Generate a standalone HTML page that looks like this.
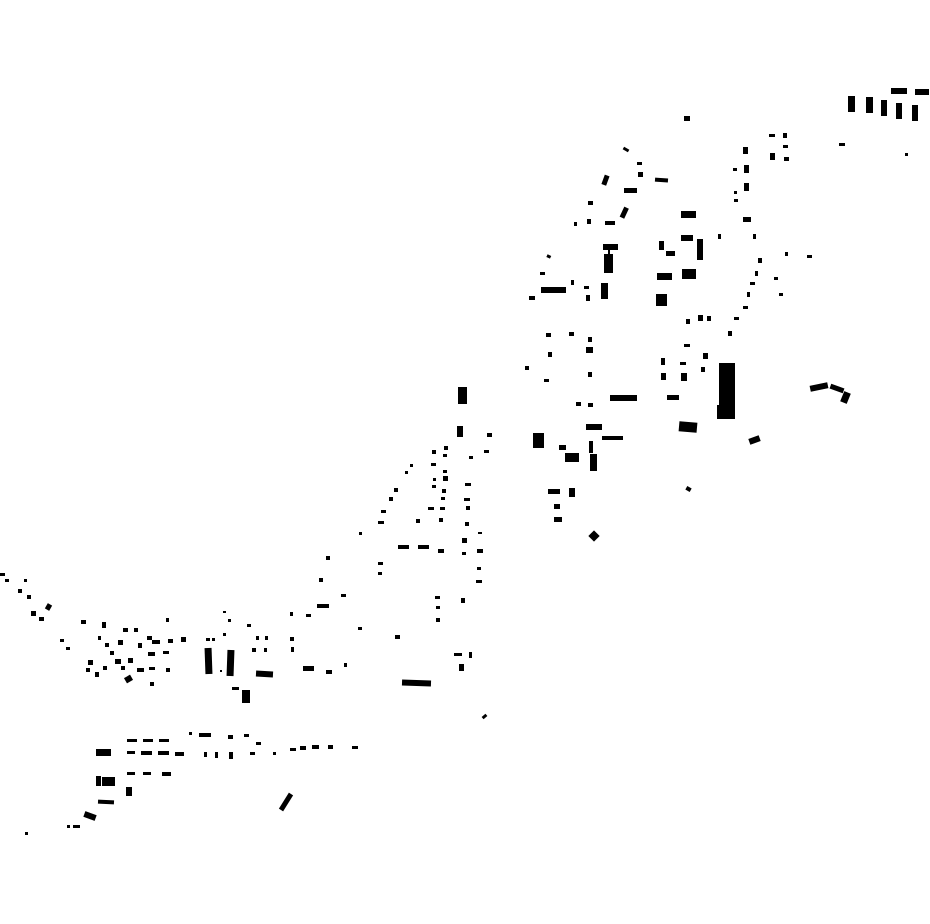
<!DOCTYPE html>
<html><head><meta charset="utf-8"><style>html,body{margin:0;padding:0;background:#fff}svg{display:block}</style></head>
<body>
<svg width="930" height="924" viewBox="0 0 930 924" xmlns="http://www.w3.org/2000/svg">
<g fill="#000">
<!-- top right -->
<rect x="891" y="88" width="16" height="6"/><rect x="915" y="89" width="14" height="6"/>
<rect x="848" y="96" width="7" height="16"/><rect x="866" y="97" width="7" height="16"/><rect x="881" y="100" width="6" height="16"/><rect x="896" y="103" width="6" height="16"/><rect x="912" y="105" width="6" height="16"/>
<rect x="684" y="116" width="6" height="5"/><rect x="839" y="143" width="6" height="3"/><rect x="905" y="153" width="3" height="3"/>
<rect x="769" y="134" width="6" height="3"/><rect x="783" y="133" width="4" height="5"/><rect x="783" y="145" width="5" height="3"/><rect x="770" y="153" width="5" height="7"/><rect x="784" y="157" width="5" height="4"/>
<rect x="743" y="147" width="5" height="7"/><rect x="733" y="168" width="4" height="3"/><rect x="744" y="165" width="5" height="8"/><rect x="744" y="183" width="5" height="8"/><rect x="734" y="191" width="3" height="3"/><rect x="734" y="199" width="4" height="3"/>
<rect x="623" y="148" width="6" height="3" transform="rotate(30 626 149.5)"/>
<rect x="637" y="162" width="5" height="3"/><rect x="638" y="172" width="5" height="5"/><rect x="655" y="178" width="13" height="4" transform="rotate(4 661 180)"/>
<rect x="603" y="175" width="5" height="10" transform="rotate(20 605 180)"/>
<rect x="624" y="188" width="13" height="5"/><rect x="588" y="201" width="5" height="4"/>
<rect x="622" y="207" width="5" height="11" transform="rotate(25 624 212)"/>
<rect x="574" y="222" width="3" height="4"/><rect x="587" y="219" width="4" height="5"/><rect x="605" y="221" width="10" height="4"/>
<rect x="681" y="211" width="15" height="7"/><rect x="743" y="217" width="8" height="5"/><rect x="718" y="234" width="3" height="5"/><rect x="753" y="234" width="3" height="5"/>
<rect x="681" y="235" width="12" height="6"/><rect x="697" y="239" width="6" height="21"/><rect x="659" y="241" width="5" height="9"/><rect x="666" y="251" width="9" height="5"/>
<rect x="603" y="244" width="15" height="6"/><rect x="608" y="250" width="2" height="4"/><rect x="604" y="254" width="9" height="19"/>
<rect x="547" y="255" width="4" height="3" transform="rotate(25 549 256)"/>
<rect x="540" y="272" width="5" height="3"/><rect x="571" y="280" width="3" height="5"/><rect x="541" y="287" width="25" height="6"/><rect x="584" y="286" width="5" height="3"/><rect x="586" y="295" width="4" height="6"/><rect x="601" y="283" width="7" height="16"/><rect x="529" y="296" width="6" height="4"/>
<rect x="657" y="273" width="15" height="7"/><rect x="682" y="269" width="14" height="10"/><rect x="656" y="294" width="11" height="12"/>
<rect x="758" y="258" width="4" height="5"/><rect x="755" y="271" width="3" height="5"/><rect x="750" y="282" width="5" height="3"/><rect x="747" y="292" width="3" height="5"/><rect x="743" y="306" width="5" height="3"/><rect x="734" y="317" width="5" height="3"/>
<rect x="785" y="252" width="3" height="4"/><rect x="807" y="255" width="5" height="3"/><rect x="774" y="277" width="4" height="3"/><rect x="779" y="293" width="4" height="3"/>
<rect x="686" y="319" width="4" height="5"/><rect x="698" y="315" width="5" height="6"/><rect x="707" y="316" width="4" height="5"/>
<!-- middle -->
<rect x="728" y="331" width="4" height="5"/><rect x="684" y="344" width="6" height="3"/><rect x="703" y="353" width="5" height="6"/><rect x="661" y="358" width="4" height="7"/><rect x="680" y="362" width="6" height="3"/><rect x="701" y="367" width="4" height="5"/><rect x="661" y="373" width="5" height="7"/><rect x="681" y="373" width="6" height="8"/>
<rect x="719" y="363" width="16" height="56"/><rect x="717" y="405" width="4" height="14"/>
<rect x="667" y="395" width="12" height="5"/><rect x="610" y="395" width="27" height="6"/>
<rect x="679" y="422" width="18" height="10" transform="rotate(5 688 427)"/>
<rect x="749" y="437" width="11" height="6" transform="rotate(-20 754.5 440)"/>
<rect x="810" y="384" width="18" height="6" transform="rotate(-12 819 387)"/>
<rect x="830" y="386" width="14" height="5" transform="rotate(20 837 388.5)"/>
<rect x="842" y="392" width="7" height="11" transform="rotate(22 845.5 397.5)"/>
<rect x="546" y="333" width="5" height="4"/><rect x="569" y="332" width="5" height="4"/><rect x="588" y="337" width="4" height="5"/><rect x="586" y="347" width="7" height="6"/><rect x="548" y="352" width="4" height="5"/><rect x="525" y="366" width="4" height="4"/><rect x="544" y="379" width="5" height="3"/><rect x="588" y="372" width="4" height="5"/>
<rect x="576" y="402" width="5" height="4"/><rect x="588" y="403" width="5" height="4"/>
<rect x="458" y="387" width="9" height="17"/><rect x="457" y="426" width="6" height="11"/>
<rect x="487" y="433" width="5" height="4"/><rect x="484" y="450" width="5" height="3"/><rect x="469" y="456" width="4" height="3"/>
<rect x="533" y="433" width="11" height="15"/><rect x="559" y="445" width="7" height="5"/><rect x="565" y="453" width="14" height="9"/>
<rect x="586" y="424" width="16" height="6"/><rect x="602" y="436" width="21" height="4"/><rect x="589" y="441" width="4" height="12"/><rect x="590" y="454" width="7" height="17"/>
<rect x="548" y="489" width="12" height="5"/><rect x="569" y="488" width="6" height="9"/><rect x="554" y="504" width="6" height="5"/><rect x="554" y="517" width="8" height="5"/>
<rect x="590" y="532" width="8" height="8" transform="rotate(45 594 536)"/>
<rect x="686" y="487" width="5" height="4" transform="rotate(30 688.5 489)"/>
<rect x="432" y="450" width="4" height="4"/><rect x="444" y="446" width="4" height="4"/><rect x="443" y="454" width="4" height="3"/><rect x="431" y="463" width="5" height="3"/><rect x="410" y="464" width="3" height="3"/><rect x="405" y="471" width="3" height="3"/><rect x="443" y="470" width="4" height="3"/><rect x="433" y="478" width="3" height="3"/><rect x="443" y="476" width="5" height="5"/><rect x="432" y="485" width="4" height="3"/><rect x="465" y="483" width="6" height="3"/><rect x="394" y="488" width="4" height="4"/><rect x="442" y="489" width="4" height="4"/><rect x="389" y="497" width="4" height="4"/><rect x="441" y="497" width="4" height="3"/><rect x="464" y="498" width="6" height="3"/><rect x="381" y="510" width="5" height="3"/><rect x="428" y="507" width="6" height="3"/><rect x="440" y="507" width="5" height="3"/><rect x="466" y="506" width="4" height="4"/><rect x="378" y="521" width="6" height="3"/><rect x="416" y="519" width="4" height="4"/><rect x="439" y="518" width="4" height="4"/><rect x="465" y="522" width="4" height="4"/><rect x="359" y="532" width="3" height="3"/><rect x="478" y="532" width="4" height="2"/>
<rect x="398" y="545" width="11" height="4"/><rect x="418" y="545" width="11" height="4"/><rect x="438" y="549" width="6" height="4"/><rect x="462" y="538" width="5" height="5"/><rect x="462" y="552" width="4" height="3"/><rect x="477" y="549" width="6" height="4"/>
<!-- lower -->
<rect x="326" y="556" width="4" height="4"/><rect x="378" y="562" width="5" height="3"/><rect x="378" y="572" width="4" height="3"/><rect x="477" y="567" width="4" height="3"/><rect x="476" y="580" width="6" height="3"/><rect x="319" y="578" width="4" height="4"/><rect x="341" y="594" width="5" height="3"/><rect x="317" y="604" width="12" height="4"/><rect x="435" y="596" width="5" height="3"/><rect x="461" y="598" width="4" height="5"/><rect x="436" y="606" width="4" height="3"/><rect x="436" y="618" width="4" height="4"/><rect x="290" y="612" width="3" height="4"/><rect x="306" y="614" width="5" height="3"/><rect x="358" y="627" width="4" height="3"/><rect x="395" y="635" width="5" height="4"/>
<rect x="454" y="653" width="8" height="3"/><rect x="469" y="652" width="3" height="6"/><rect x="459" y="664" width="5" height="7"/>
<rect x="402" y="680" width="29" height="6" transform="rotate(2 416.5 683)"/>
<rect x="482" y="715" width="5" height="3" transform="rotate(-40 484.5 716.5)"/>
<rect x="290" y="637" width="4" height="4"/><rect x="291" y="647" width="3" height="5"/><rect x="303" y="666" width="11" height="5"/><rect x="326" y="670" width="6" height="4"/><rect x="344" y="663" width="3" height="4"/>
<rect x="256" y="636" width="3" height="4"/><rect x="265" y="636" width="3" height="4"/><rect x="252" y="648" width="4" height="4"/><rect x="264" y="648" width="3" height="4"/><rect x="247" y="624" width="4" height="3"/><rect x="223" y="611" width="3" height="2"/><rect x="228" y="619" width="3" height="3"/><rect x="223" y="633" width="3" height="3"/><rect x="206" y="638" width="4" height="3"/><rect x="212" y="638" width="3" height="3"/><rect x="220" y="670" width="2" height="2"/>
<rect x="205" y="648" width="7" height="26" transform="rotate(-2 208.5 661)"/><rect x="227" y="650" width="7" height="26" transform="rotate(2 230.5 663)"/>
<rect x="256" y="671" width="17" height="6" transform="rotate(3 264.5 674)"/><rect x="232" y="687" width="7" height="3"/><rect x="242" y="690" width="8" height="13"/>
<rect x="0" y="573" width="5" height="3"/><rect x="5" y="579" width="4" height="3"/><rect x="24" y="579" width="3" height="3"/><rect x="18" y="589" width="4" height="4"/><rect x="27" y="595" width="4" height="4"/><rect x="31" y="611" width="5" height="5"/><rect x="39" y="617" width="5" height="4"/><rect x="46" y="604" width="5" height="6" transform="rotate(30 48.5 607)"/>
<rect x="81" y="620" width="5" height="4"/><rect x="102" y="622" width="4" height="6"/><rect x="60" y="639" width="4" height="3"/><rect x="66" y="647" width="4" height="3"/><rect x="98" y="636" width="3" height="4"/><rect x="105" y="643" width="4" height="4"/><rect x="110" y="651" width="4" height="4"/><rect x="115" y="659" width="6" height="5"/><rect x="123" y="628" width="5" height="4"/><rect x="118" y="640" width="5" height="5"/><rect x="134" y="628" width="4" height="4"/><rect x="138" y="643" width="4" height="5"/><rect x="128" y="658" width="5" height="5"/><rect x="121" y="666" width="4" height="4"/><rect x="103" y="666" width="4" height="4"/><rect x="88" y="660" width="5" height="5"/><rect x="86" y="668" width="4" height="4"/><rect x="95" y="672" width="4" height="5"/><rect x="125" y="676" width="7" height="6" transform="rotate(-30 128.5 679)"/><rect x="137" y="668" width="7" height="4"/><rect x="147" y="636" width="5" height="4"/><rect x="152" y="640" width="8" height="4"/><rect x="166" y="618" width="3" height="4"/><rect x="168" y="639" width="5" height="4"/><rect x="181" y="637" width="5" height="5"/><rect x="148" y="652" width="7" height="4"/><rect x="163" y="651" width="6" height="3"/><rect x="149" y="667" width="6" height="3"/><rect x="166" y="668" width="4" height="4"/><rect x="150" y="682" width="4" height="4"/>
<!-- bottom -->
<rect x="127" y="739" width="10" height="3"/><rect x="143" y="739" width="10" height="3"/><rect x="159" y="739" width="10" height="3"/><rect x="189" y="732" width="3" height="3"/><rect x="199" y="733" width="12" height="4"/><rect x="228" y="735" width="5" height="4"/><rect x="244" y="734" width="5" height="3"/><rect x="256" y="742" width="5" height="3"/>
<rect x="96" y="749" width="15" height="7"/><rect x="127" y="751" width="8" height="3"/><rect x="141" y="751" width="11" height="4"/><rect x="158" y="751" width="11" height="4"/><rect x="175" y="752" width="9" height="4"/><rect x="204" y="752" width="3" height="5"/><rect x="215" y="752" width="3" height="6"/><rect x="229" y="752" width="4" height="7"/><rect x="250" y="752" width="5" height="3"/><rect x="273" y="752" width="3" height="3"/><rect x="290" y="748" width="6" height="3"/><rect x="300" y="746" width="6" height="4"/><rect x="312" y="745" width="7" height="4"/><rect x="328" y="745" width="5" height="4"/><rect x="352" y="746" width="6" height="3"/>
<rect x="127" y="772" width="8" height="3"/><rect x="143" y="772" width="8" height="3"/><rect x="162" y="772" width="9" height="4"/><rect x="96" y="776" width="5" height="10"/><rect x="102" y="777" width="13" height="9"/><rect x="126" y="787" width="6" height="9"/>
<rect x="98" y="800" width="16" height="4" transform="rotate(3 106 802)"/><rect x="84" y="813" width="12" height="6" transform="rotate(20 90 816)"/>
<rect x="67" y="825" width="3" height="3"/><rect x="73" y="825" width="7" height="3"/><rect x="25" y="832" width="3" height="3"/>
<line x1="291" y1="794" x2="281" y2="810" stroke="#000" stroke-width="5"/>
</g>
</svg>
</body></html>
